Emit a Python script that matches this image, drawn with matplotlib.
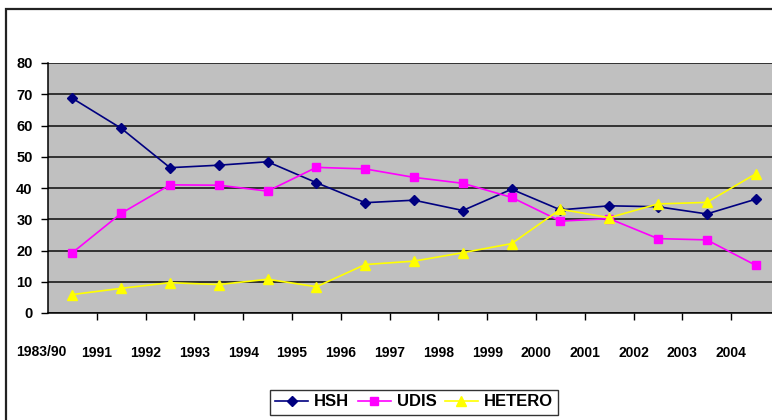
import matplotlib
matplotlib.use("Agg")
import matplotlib.pyplot as plt
from matplotlib.patches import Rectangle

categories = ["1983/90", "1991", "1992", "1993", "1994", "1995", "1996", "1997",
              "1998", "1999", "2000", "2001", "2002", "2003", "2004"]
hsh = [68.7, 59.1, 46.5, 47.3, 48.4, 41.7, 35.3, 36.1, 32.8, 39.6, 33.0, 34.3, 34.0, 31.7, 36.4]
udis = [19.3, 31.9, 41.0, 40.9, 39.0, 46.6, 46.1, 43.4, 41.5, 37.0, 29.4, 30.2, 23.8, 23.4, 15.3]
hetero = [5.9, 7.9, 9.7, 9.1, 10.8, 8.4, 15.5, 16.6, 19.3, 22.2, 33.2, 30.5, 34.9, 35.4, 44.5]
yticks = [0, 10, 20, 30, 40, 50, 60, 70, 80]

plt.rcParams['font.family'] = ['Liberation Sans', 'DejaVu Sans']
plt.rcParams['font.weight'] = 'bold'

W, H = 772, 420
fig = plt.figure(figsize=(W / 100, H / 100), dpi=100)
fig.patch.set_facecolor('white')

# outer chart-area border (cropped on right and bottom)
fig.patches.append(Rectangle((5.5 / W, -0.1), 2.0, 1 - 9 / H + 0.1, transform=fig.transFigure,
                             fill=False, edgecolor='#222222', linewidth=1.6))

left, right_px, top, bottom = 48, 780, 63, 313
ax = fig.add_axes([left / W, 1 - bottom / H, (right_px - left) / W, (bottom - top) / H])
ax.set_facecolor('#C0C0C0')

x = list(range(len(categories)))
ax.plot(x, hsh, color='#000080', lw=1.2, marker='D', ms=5.5, mec='#000080', mfc='#000080', label='HSH', zorder=3)
ax.plot(x, udis, color='#FF00FF', lw=1.2, marker='s', ms=6, mec='#FF00FF', mfc='#FF00FF', label='UDIS', zorder=3)
ax.plot(x, hetero, color='#FFFF00', lw=1.2, marker='^', ms=7.5, mec='#FFFF00', mfc='#FFFF00', label='HETERO', zorder=3)

ax.set_xlim(-0.5, len(categories) - 0.5)
ax.set_ylim(0, 80)
ax.set_yticks(yticks)
ax.set_yticklabels([str(v) for v in yticks], fontsize=10.5, fontweight='bold')
ax.yaxis.grid(True, color='#1a1a1a', lw=1.2)
ax.set_axisbelow(True)

ax.set_xticks([i - 0.5 for i in range(1, len(categories))])
ax.set_xticklabels(categories[1:], fontsize=10, fontweight='bold')
ax.tick_params(axis='x', length=5, width=1, pad=19, colors='black', direction='out')
ax.tick_params(axis='y', length=5, width=1, pad=6, direction='out')
ax.text(-0.64, -0.156, categories[0], transform=ax.get_xaxis_transform(), ha='center', va='center',
        fontsize=10, fontweight='bold')

for s in ['top', 'right']:
    ax.spines[s].set_visible(False)
ax.spines['left'].set_color('black')
ax.spines['bottom'].set_color('black')
ax.spines['left'].set_linewidth(1.1)
ax.spines['bottom'].set_linewidth(1.1)

leg = fig.legend(loc='center', bbox_to_anchor=(414 / W, 1 - 402 / H), ncol=3, frameon=True,
                 fancybox=False, edgecolor='black', prop={'size': 12, 'weight': 'bold'},
                 handlelength=2.0, handletextpad=0.35, columnspacing=0.5, borderpad=0.3,
                 borderaxespad=0.0)
leg.get_frame().set_linewidth(1.0)

fig.savefig('out.png', dpi=100, facecolor='white')
